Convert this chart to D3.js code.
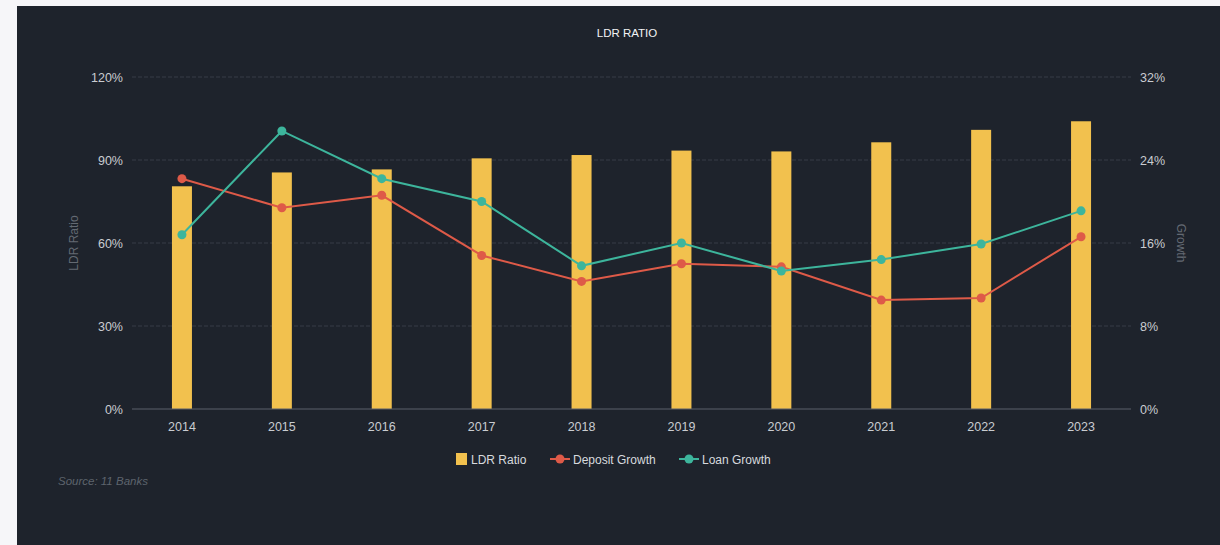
<!DOCTYPE html>
<html>
<head>
<meta charset="utf-8">
<script src="https://cdn.jsdelivr.net/npm/d3@7"></script>
<style>
  html, body { margin: 0; padding: 0; background: #f6f6f9; }
  svg { display: block; font-family: "Liberation Sans", Arial, sans-serif; }
</style>
</head>
<body>
<svg id="chart" width="1220" height="545"></svg>
<script>
// Yearly LDR ratio and growth rates, 11 banks
const years = ["2014", "2015", "2016", "2017", "2018", "2019", "2020", "2021", "2022", "2023"];
const ldrRatio = [80.5, 85.5, 86.6, 90.6, 91.8, 93.4, 93.1, 96.4, 100.9, 104.0];
const depositGrowth = [22.2, 19.4, 20.6, 14.8, 12.3, 14.0, 13.7, 10.5, 10.7, 16.6];
const loanGrowth = [16.8, 26.8, 22.2, 20.0, 13.8, 16.0, 13.3, 14.4, 15.9, 19.1];
const leftTicks = [0, 30, 60, 90, 120];
const rightTicks = [0, 8, 16, 24, 32];

const colors = { bar: "#f2c14e", deposit: "#de5a48", loan: "#3db59c" };

const svg = d3.select("#chart");

// Dark panel
svg.append("rect").attr("x", 17).attr("y", 6).attr("width", 1203).attr("height", 539).attr("fill", "#1e232c");

const plot = { left: 132, right: 1131, top: 77, bottom: 409 };

const x = d3.scaleBand().domain(years).range([plot.left, plot.right]);
const yL = d3.scaleLinear().domain([0, 120]).range([plot.bottom, plot.top]);
const yR = d3.scaleLinear().domain([0, 32]).range([plot.bottom, plot.top]);

// Title
svg.append("text").attr("x", 627).attr("y", 37).attr("text-anchor", "middle")
  .attr("fill", "#f2f3f5").attr("font-size", 11.5).text("LDR RATIO");

// Gridlines
svg.append("g").selectAll("line").data(leftTicks.filter(d => d > 0)).join("line")
  .attr("x1", plot.left).attr("x2", plot.right)
  .attr("y1", d => yL(d)).attr("y2", d => yL(d))
  .attr("stroke", "#363c46").attr("stroke-dasharray", "4,2").attr("stroke-width", 1);

// Left axis
const axL = svg.append("g").attr("transform", `translate(${plot.left - 9},0)`)
  .call(d3.axisLeft(yL).tickValues(leftTicks).tickFormat(d => d + "%").tickSize(0).tickPadding(0));
axL.select(".domain").remove();
axL.selectAll("text").attr("fill", "#c9ccd1").attr("font-size", 12.5).attr("font-family", "Liberation Sans, Arial, sans-serif");

// Right axis
const axR = svg.append("g").attr("transform", `translate(${plot.right + 9},0)`)
  .call(d3.axisRight(yR).tickValues(rightTicks).tickFormat(d => d + "%").tickSize(0).tickPadding(0));
axR.select(".domain").remove();
axR.selectAll("text").attr("fill", "#c9ccd1").attr("font-size", 12.5).attr("font-family", "Liberation Sans, Arial, sans-serif");

// Axis titles
svg.append("text").attr("transform", "translate(78,243) rotate(-90)").attr("text-anchor", "middle")
  .attr("fill", "#646a73").attr("font-size", 12).text("LDR Ratio");
svg.append("text").attr("transform", "translate(1177,243) rotate(90)").attr("text-anchor", "middle")
  .attr("fill", "#646a73").attr("font-size", 12).text("Growth");

// Bars
const barW = 20;
svg.append("g").selectAll("rect").data(years).join("rect")
  .attr("x", d => x(d) + x.bandwidth() / 2 - barW / 2)
  .attr("y", (d, i) => yL(ldrRatio[i]))
  .attr("width", barW)
  .attr("height", (d, i) => yL(0) - yL(ldrRatio[i]))
  .attr("fill", colors.bar);

// Baseline
svg.append("line").attr("x1", plot.left).attr("x2", plot.right)
  .attr("y1", plot.bottom).attr("y2", plot.bottom)
  .attr("stroke", "#5b616b").attr("stroke-width", 1.2);

// X axis
const axX = svg.append("g").attr("transform", `translate(0,${plot.bottom + 10})`)
  .call(d3.axisBottom(x).tickSize(0).tickPadding(3));
axX.select(".domain").remove();
axX.selectAll("text").attr("fill", "#c9ccd1").attr("font-size", 12.5).attr("font-family", "Liberation Sans, Arial, sans-serif");

// Growth lines
function drawSeries(values, color) {
  const line = d3.line().x((d, i) => x(years[i]) + x.bandwidth() / 2).y(d => yR(d));
  svg.append("path").datum(values).attr("d", line)
    .attr("fill", "none").attr("stroke", color).attr("stroke-width", 2);
  svg.append("g").selectAll("circle").data(values).join("circle")
    .attr("cx", (d, i) => x(years[i]) + x.bandwidth() / 2)
    .attr("cy", d => yR(d)).attr("r", 4.5).attr("fill", color);
}
drawSeries(depositGrowth, colors.deposit);
drawSeries(loanGrowth, colors.loan);

// Legend
const lg = svg.append("g").attr("font-size", 12).attr("fill", "#d7dade");
lg.append("rect").attr("x", 456).attr("y", 453).attr("width", 11).attr("height", 12).attr("fill", colors.bar);
lg.append("text").attr("x", 471).attr("y", 463.5).text("LDR Ratio");
[[550, colors.deposit, "Deposit Growth"], [679, colors.loan, "Loan Growth"]].forEach(([lx, c, t]) => {
  lg.append("line").attr("x1", lx).attr("x2", lx + 20).attr("y1", 459).attr("y2", 459).attr("stroke", c).attr("stroke-width", 2);
  lg.append("circle").attr("cx", lx + 10).attr("cy", 459).attr("r", 4.5).attr("fill", c);
  lg.append("text").attr("x", lx + 23).attr("y", 463.5).text(t);
});

// Source note
svg.append("text").attr("x", 58).attr("y", 485).attr("font-size", 11.5).attr("font-style", "italic")
  .attr("fill", "#5d636c").text("Source: 11 Banks");
</script>
</body>
</html>
